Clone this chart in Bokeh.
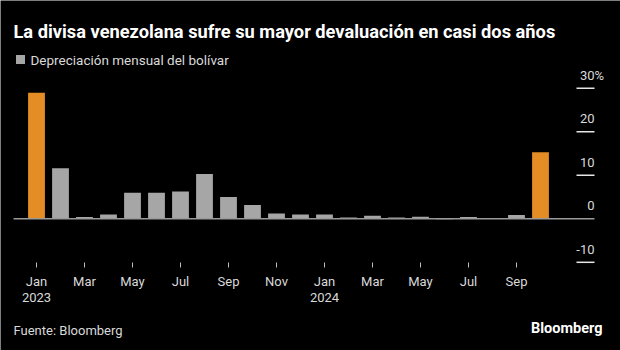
from bokeh.plotting import figure
from bokeh.models import Range1d, Label, ColumnDataSource
from bokeh.core.properties import value
from bokeh.embed import file_html
from bokeh.resources import INLINE

# ---- data ----
months = ["Jan", "Feb", "Mar", "Apr", "May", "Jun", "Jul", "Aug", "Sep", "Oct", "Nov", "Dec",
          "Jan", "Feb", "Mar", "Apr", "May", "Jun", "Jul", "Aug", "Sep", "Oct"]
years = ["2023"] * 12 + ["2024"] * 10
depreciation = [29.0, 11.6, 0.4, 1.0, 6.0, 6.0, 6.3, 10.3, 5.0, 3.2, 1.2, 1.0,
                1.0, 0.3, 0.7, 0.3, 0.45, -0.1, 0.4, 0.1, 0.9, 15.3]
highlight = [True] + [False] * 20 + [True]
y_ticks = [-10, 0, 10, 20, 30]
y_tick_labels = ["-10", "0", "10", "20", "30"]

title = "La divisa venezolana sufre su mayor devaluación en casi dos años"
legend_label = "Depreciación mensual del bolívar"
source_note = "Fuente: Bloomberg"

W, H = 620, 350
# pixel layout helpers (frame covers whole canvas)
X0, DX = 36.0, 24.0          # px of first bar centre, px per month
Y0, DY = 218.3, 4.35         # px of zero line, px per percentage point


def xd(px):
    return (px - X0) / DX


def yd(py):
    return (Y0 - py) / DY


ORANGE = "#E58D25"
GRAY = "#A6A6A6"
TXT = "#D9D9D9"
FONT = "Roboto"

p = figure(width=W, height=H, output_backend="svg", toolbar_location=None,
           x_range=Range1d(xd(0), xd(W)), y_range=Range1d(yd(H), yd(0)),
           min_border=0, background_fill_color="black", border_fill_color="black")
p.axis.visible = False
p.grid.visible = False
p.outline_line_color = None

idx = list(range(len(months)))
colors = [ORANGE if h else GRAY for h in highlight]
src = ColumnDataSource(dict(x=idx, top=depreciation, color=colors))
p.vbar(x="x", top="top", bottom=0, width=0.7, fill_color="color", line_color=None, source=src)

# zero baseline
p.segment(x0=[xd(13)], y0=[0], x1=[xd(594)], y1=[0], line_color="#9A9A9A", line_width=1.5)

# right-side y ticks (Bloomberg style: label above short line)
nz = [t for t in y_ticks if t != 0]
p.segment(x0=[xd(576)] * len(nz), y0=nz, x1=[xd(594)] * len(nz), y1=nz,
          line_color="#E6E6E6", line_width=1.5)
p.text(x=[xd(594)] * len(y_ticks), y=y_ticks, text=y_tick_labels, text_align="right",
       text_baseline="middle", y_offset=-13, text_color=TXT, text_font=value(FONT),
       text_font_size="13px")
p.text(x=[xd(594)], y=[y_ticks[-1]], text=["%"], text_align="left", text_baseline="middle",
       y_offset=-13, text_color=TXT, text_font=value(FONT), text_font_size="13px")

# x ticks every two months
tick_idx = idx[::2]
p.segment(x0=tick_idx, y0=[yd(262)] * len(tick_idx), x1=tick_idx, y1=[yd(267)] * len(tick_idx),
          line_color="#BBBBBB", line_width=1)
p.text(x=tick_idx, y=[yd(281)] * len(tick_idx), text=[months[i] for i in tick_idx],
       text_align="center", text_baseline="middle", text_color=TXT, text_font=value(FONT),
       text_font_size="13px")
year_idx = [i for i in idx if months[i] == "Jan"]
p.text(x=year_idx, y=[yd(297)] * len(year_idx), text=[years[i] for i in year_idx],
       text_align="center", text_baseline="middle", text_color=TXT, text_font=value(FONT),
       text_font_size="13px")

# titles / legend / footer
p.add_layout(Label(x=13, y=H - 31, x_units="screen", y_units="screen", text=title,
                   text_font=FONT, text_font_style="bold", text_font_size="18.25px",
                   text_color="white", text_baseline="middle"))
p.rect(x=[xd(20)], y=[yd(59)], width=9, height=9, width_units="screen", height_units="screen",
       fill_color=GRAY, line_color=None)
p.add_layout(Label(x=30, y=H - 59, x_units="screen", y_units="screen", text=legend_label,
                   text_font=FONT, text_font_size="13.5px", text_color=TXT,
                   text_baseline="middle"))
p.add_layout(Label(x=13, y=H - 330, x_units="screen", y_units="screen", text=source_note,
                   text_font=FONT, text_font_size="13px", text_color=TXT,
                   text_baseline="middle"))
p.add_layout(Label(x=602, y=H - 328, x_units="screen", y_units="screen", text="Bloomberg",
                   text_font=FONT, text_font_style="bold", text_font_size="14.5px",
                   text_color="white", text_baseline="middle", text_align="right"))

open("out.html", "w").write(file_html(p, INLINE))
